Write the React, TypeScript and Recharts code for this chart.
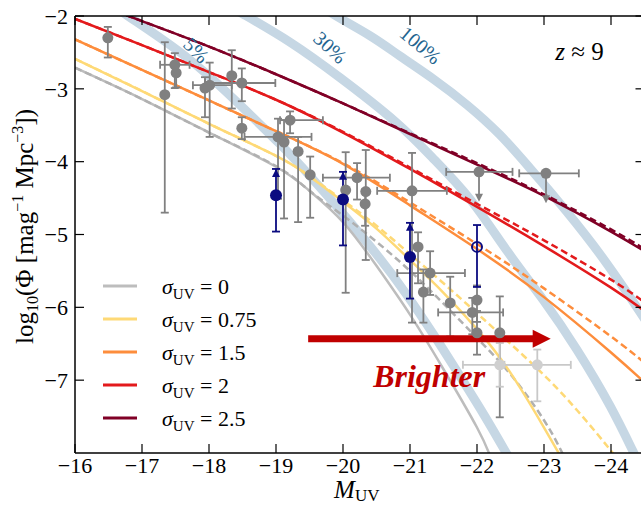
import React from 'react';
import {
  ComposedChart, Line, Scatter, XAxis, YAxis, ErrorBar,
  ReferenceLine, ReferenceDot, Legend,
} from 'recharts';

// ---------- ticks ----------
const xTicks = [-16, -17, -18, -19, -20, -21, -22, -23, -24];
const yTicks = [-2, -3, -4, -5, -6, -7];

// ---------- model curves [M_UV, log10 Phi] ----------
const sigmaLabels = ['0', '0.75', '1.5', '2', '2.5'];
const sigmaColors = ['#bdbdbd', '#fed976', '#fd8d3c', '#e31a1c', '#800026'];

const sigma0Solid: number[][] = [[-16, -2.71], [-17, -3.14], [-18, -3.6], [-19, -4.07], [-19.5, -4.4], [-20, -4.83], [-20.5, -5.43], [-21, -6.1], [-21.5, -6.85], [-22, -7.65], [-22.2, -8.05]];
const sigma0Dashed: number[][] = [[-16, -2.71], [-17, -3.14], [-18, -3.6], [-19, -4.06], [-19.5, -4.4], [-20, -4.74], [-20.5, -5.1], [-21, -5.5], [-21.5, -5.95], [-22, -6.42], [-22.5, -6.92], [-23, -7.55], [-23.3, -8.05]];
const sigma075Solid: number[][] = [[-16, -2.59], [-17, -3.03], [-18, -3.48], [-19, -3.92], [-19.5, -4.2], [-20, -4.55], [-20.5, -4.92], [-21, -5.35], [-21.5, -5.8], [-22, -6.3], [-22.5, -6.9], [-23, -7.65], [-23.25, -8.05]];
const sigma075Dashed: number[][] = [[-16, -2.59], [-17, -3.03], [-18, -3.48], [-19, -3.92], [-19.5, -4.2], [-20, -4.53], [-20.5, -4.88], [-21, -5.27], [-21.5, -5.67], [-22, -6.08], [-22.5, -6.5], [-23, -6.93], [-23.5, -7.42], [-24, -7.97], [-24.05, -8.05]];
const sigma15Solid: number[][] = [[-16, -2.32], [-17, -2.74], [-18, -3.16], [-19, -3.58], [-20, -4.03], [-21, -4.6], [-22, -5.2], [-23, -5.86], [-24, -6.62], [-24.5, -7.03]];
const sigma15Dashed: number[][] = [[-16, -2.32], [-17, -2.74], [-18, -3.16], [-19, -3.58], [-20, -4.02], [-21, -4.56], [-22, -5.13], [-23, -5.74], [-24, -6.4], [-24.5, -6.76]];
const sigma2Solid: number[][] = [[-16, -2.04], [-17, -2.4], [-18, -2.77], [-19, -3.15], [-20, -3.6], [-21, -4.1], [-22, -4.62], [-23, -5.16], [-24, -5.73], [-24.5, -6.05]];
const sigma2Dashed: number[][] = [[-16, -2.04], [-17, -2.4], [-18, -2.77], [-19, -3.15], [-20, -3.59], [-21, -4.08], [-22, -4.58], [-23, -5.08], [-24, -5.62], [-24.5, -5.93]];
const sigma25Solid: number[][] = [[-16, -1.72], [-17, -2.07], [-18, -2.42], [-19, -2.8], [-20, -3.2], [-21, -3.62], [-22, -4.04], [-23, -4.47], [-24, -4.96], [-24.5, -5.23]];
const sigma25Dashed: number[][] = [[-16, -1.72], [-17, -2.07], [-18, -2.42], [-19, -2.8], [-20, -3.2], [-21, -3.61], [-22, -4.02], [-23, -4.45], [-24, -4.93], [-24.5, -5.2]];

// ---------- constant-efficiency bands ----------
const band5: number[][] = [[-16.5, -1.8], [-16.79, -2.0], [-17.67, -2.57], [-18.46, -3.22], [-19.06, -3.76], [-19.51, -4.2], [-20.06, -4.78], [-20.55, -5.33], [-20.93, -5.8], [-21.37, -6.4], [-21.75, -6.95], [-22.12, -7.5], [-22.5, -8.1]];
const band30: number[][] = [[-18.2, -1.81], [-18.54, -1.99], [-19.21, -2.36], [-19.96, -2.85], [-20.78, -3.45], [-21.34, -3.95], [-21.9, -4.52], [-22.46, -5.24], [-22.99, -5.9], [-23.49, -6.58], [-23.99, -7.36], [-24.33, -7.98], [-24.45, -8.2]];
const band100: number[][] = [[-19.5, -1.75], [-19.88, -1.99], [-20.4, -2.27], [-20.85, -2.55], [-21.37, -2.88], [-21.85, -3.22], [-22.34, -3.63], [-22.79, -4.09], [-23.19, -4.52], [-23.73, -5.14], [-24.24, -5.8], [-24.6, -6.3]];
const bandLabels = ['5%', '30%', '100%'];
const bandLabelAt = [[-17.81, -2.47], [-19.81, -2.43], [-21.16, -2.4]];
const bandLabelAngle = [45, 43, 40];

// ---------- observations ----------
const grayPoints = [
  { x: -16.49, y: -2.30, ex: [0, 0], ey: [0.27, 0.15] },
  { x: -17.34, y: -3.08, ex: [0, 0], ey: [1.62, 0.72] },
  { x: -17.49, y: -2.67, ex: [0.22, 0.22], ey: [0.32, 0.16] },
  { x: -17.51, y: -2.78, ex: [0, 0], ey: [0.2, 0.12] },
  { x: -17.94, y: -2.99, ex: [0, 0], ey: [0.4, 0.15] },
  { x: -18.01, y: -2.95, ex: [0.33, 0.25], ey: [0.71, 0.31] },
  { x: -18.34, y: -2.82, ex: [0, 0], ey: [0.45, 0.35] },
  { x: -18.49, y: -2.92, ex: [0.5, 0.55], ey: [0.25, 0.2] },
  { x: -18.49, y: -3.54, ex: [0, 0], ey: [0.15, 0.15] },
  { x: -19.03, y: -3.66, ex: [0.5, 0.5], ey: [0.85, 0.25] },
  { x: -19.12, y: -3.73, ex: [0, 0], ey: [1.05, 0.3] },
  { x: -19.21, y: -3.43, ex: [0.49, 0.15], ey: [0.18, 0.12] },
  { x: -19.33, y: -3.86, ex: [0, 0], ey: [0.97, 0.2] },
  { x: -19.51, y: -4.18, ex: [0, 0], ey: [0.59, 0.25] },
  { x: -20.04, y: -4.39, ex: [0, 0], ey: [1.41, 0.52] },
  { x: -20.21, y: -4.22, ex: [0.49, 0.51], ey: [0.3, 0.2] },
  { x: -20.34, y: -4.41, ex: [0, 0], ey: [0.94, 0.57] },
  { x: -20.33, y: -4.58, ex: [0, 0], ey: [0.3, 0.2] },
  { x: -21.03, y: -4.40, ex: [0.52, 0.52], ey: [1.81, 0.52] },
  { x: -21.12, y: -5.17, ex: [0, 0], ey: [0.5, 0.2] },
  { x: -21.30, y: -5.53, ex: [0.52, 0.49], ey: [0.3, 0.3] },
  { x: -21.20, y: -5.79, ex: [0, 0], ey: [0.42, 0.31] },
  { x: -21.60, y: -5.94, ex: [0, 0], ey: [0.46, 0.36] },
  { x: -22.00, y: -5.90, ex: [0, 0], ey: [0.3, 0.2] },
  { x: -21.93, y: -6.07, ex: [0.46, 0.51], ey: [0.3, 0.2] },
  { x: -22.00, y: -6.35, ex: [0, 0], ey: [0.3, 0.3] },
  { x: -22.34, y: -6.35, ex: [0, 0], ey: [1.16, 0.5] },
];
const grayUpperLimits = [
  { x: -22.03, y: -4.14, ex: [0.5, 0.49], ey: [0.36, 0] },
  { x: -23.03, y: -4.16, ex: [0.49, 0.4], ey: [0.36, 0] },
];
const grayLimitTips = [{ x: -22.03, y: -4.55 }, { x: -23.03, y: -4.57 }];
const fadedPoints = [
  { x: -22.34, y: -6.79, ex: [0.55, 0.55], ey: [0.3, 0.3] },
  { x: -22.90, y: -6.79, ex: [0.5, 0.49], ey: [0.5, 0.21] },
];
const bluePoints = [
  { x: -19.0, y: -4.46, ey: [0.5, 0.36] },
  { x: -20.0, y: -4.52, ey: [0.63, 0.38] },
  { x: -21.0, y: -5.31, ey: [0.57, 0.47] },
];
const blueLimitTips = [{ x: -19.0, y: -4.10 }, { x: -20.0, y: -4.14 }, { x: -21.0, y: -4.84 }];
const blueOpen = [{ x: -22.0, y: -5.17, ey: [0.55, 0.3] }];

// ---------- "Brighter" arrow ----------
const arrowStart = { x: -19.48, y: -6.43 };
const arrowShaftEnd = { x: -22.9, y: -6.43 };
const arrowTip = { x: -23.1, y: -6.43 };
const brighterAt = { x: -20.45, y: -7.1 };
const redshiftAt = { x: -23.53, y: -2.6 };

const xy = (a: number[][]) => a.map(([x, y]) => ({ x, y }));

const curves = [
  { d: sigma0Solid, c: 0, dash: false }, { d: sigma0Dashed, c: 0, dash: true },
  { d: sigma075Solid, c: 1, dash: false }, { d: sigma075Dashed, c: 1, dash: true },
  { d: sigma15Solid, c: 2, dash: false }, { d: sigma15Dashed, c: 2, dash: true },
  { d: sigma2Solid, c: 3, dash: false }, { d: sigma2Dashed, c: 3, dash: true },
  { d: sigma25Solid, c: 4, dash: false }, { d: sigma25Dashed, c: 4, dash: true },
];
const bands = [band5, band30, band100];

const FONT = '"Liberation Serif", "Times New Roman", serif';
const minus = (v: number) => (v < 0 ? `\u2212${Math.abs(v)}` : `${v}`);
const GRAY = '#808080';
const NAVY = '#0b0b80';

const circle = (r: number, fill: string, stroke = 'none', sw = 0) => (p: any) =>
  <circle cx={p.cx} cy={p.cy} r={r} fill={fill} stroke={stroke} strokeWidth={sw} />;
const triUp = (fill: string) => (p: any) =>
  <polygon points={`${p.cx},${p.cy} ${p.cx - 4},${p.cy + 8} ${p.cx + 4},${p.cy + 8}`} fill={fill} />;
const triDown = (fill: string) => (p: any) =>
  <polygon points={`${p.cx},${p.cy} ${p.cx - 4},${p.cy - 8} ${p.cx + 4},${p.cy - 8}`} fill={fill} />;

const LegendBox = () => (
  <svg width={230} height={165} style={{ display: 'block' }}>
    {sigmaLabels.map((s, i) => {
      const y = 16 + i * 33;
      return (
        <g key={s}>
          <line x1={8} x2={42} y1={y} y2={y} stroke={sigmaColors[i]} strokeWidth={3} />
          <text x={67} y={y + 8} fontFamily={FONT} fontSize={22} fill="#000">
            <tspan fontStyle="italic">σ</tspan>
            <tspan fontSize={15} dy={5}>UV</tspan>
            <tspan dy={-5}>{` = ${s}`}</tspan>
          </text>
        </g>
      );
    })}
  </svg>
);

export default function App() {
  return (
    <div style={{ position: 'absolute', left: 0, top: 0, width: 641, height: 506, overflow: 'hidden', background: '#fff' }}>
      <ComposedChart width={652} height={506} margin={{ top: 0, right: 0, bottom: 0, left: 0 }} style={{ fontFamily: FONT }}>
        <XAxis xAxisId="b" type="number" dataKey="x" domain={[-24.5, -16]} reversed allowDataOverflow
          ticks={xTicks} tickFormatter={minus} height={53} tickSize={-9} tickMargin={13}
          axisLine={{ stroke: '#000', strokeWidth: 1.5 }} tickLine={{ stroke: '#000', strokeWidth: 1.2 }}
          tick={{ fill: '#000', fontSize: 22, fontFamily: FONT }}
          label={(p: any) => {
            const vb = p.viewBox;
            return (
              <text x={vb.x + vb.width / 2 - 3} y={vb.y + 45} textAnchor="middle" fontFamily={FONT} fontSize={25} fill="#000">
                <tspan fontStyle="italic">M</tspan>
                <tspan fontSize={17} dy={3}>UV</tspan>
              </text>
            );
          }} />
        <XAxis xAxisId="t" orientation="top" type="number" dataKey="x" domain={[-24.5, -16]} reversed allowDataOverflow
          ticks={xTicks} tickFormatter={() => ''} height={16} tickSize={-9}
          axisLine={{ stroke: '#000', strokeWidth: 1.5 }} tickLine={{ stroke: '#000', strokeWidth: 1.2 }} />
        <YAxis yAxisId="l" type="number" dataKey="y" domain={[-8, -2]} allowDataOverflow
          ticks={yTicks} tickFormatter={minus} width={75} tickSize={-9} tickMargin={16}
          axisLine={{ stroke: '#000', strokeWidth: 1.5 }} tickLine={{ stroke: '#000', strokeWidth: 1.2 }}
          tick={{ fill: '#000', fontSize: 22, fontFamily: FONT }}
          label={(p: any) => {
            const vb = p.viewBox;
            const cx = 33;
            const cy = vb.y + vb.height / 2 - 8;
            return (
              <text x={cx} y={cy} transform={`rotate(-90 ${cx} ${cy})`} textAnchor="middle" fontFamily={FONT} fontSize={25} fill="#000">
                log<tspan fontSize={16} dy={5}>10</tspan>
                <tspan dy={-5}>(Φ [mag</tspan>
                <tspan fontSize={16} dy={-10}>−1</tspan>
                <tspan dy={10}> Mpc</tspan>
                <tspan fontSize={16} dy={-10}>−3</tspan>
                <tspan dy={10}>])</tspan>
              </text>
            );
          }} />
        <YAxis yAxisId="r" orientation="right" type="number" dataKey="y" domain={[-8, -2]} allowDataOverflow
          ticks={yTicks} tickFormatter={() => ''} width={7.5} tickSize={-9}
          axisLine={{ stroke: '#000', strokeWidth: 1.5 }} tickLine={{ stroke: '#000', strokeWidth: 1.2 }} />

        {bands.map((b, i) => (
          <Line key={`band${i}`} xAxisId="b" yAxisId="l" data={xy(b)} dataKey="y" type="natural"
            stroke="#c6d7e4" strokeWidth={9} dot={false} activeDot={false} isAnimationActive={false} legendType="none" />
        ))}

        {curves.map((c, i) => (
          <Line key={`curve${i}`} xAxisId="b" yAxisId="l" data={xy(c.d)} dataKey="y" type="natural"
            stroke={c.dash && c.c === 0 ? '#b0b0b0' : sigmaColors[c.c]} strokeWidth={2.5}
            strokeDasharray={c.dash ? '7 4' : undefined}
            dot={false} activeDot={false} isAnimationActive={false} legendType="none" />
        ))}

        <Scatter xAxisId="b" yAxisId="l" data={grayPoints} shape={circle(5.5, GRAY)} isAnimationActive={false} legendType="none">
          <ErrorBar dataKey="ey" direction="y" width={4} stroke={GRAY} strokeWidth={1.8} isAnimationActive={false} />
          <ErrorBar dataKey="ex" direction="x" width={4} stroke={GRAY} strokeWidth={1.8} isAnimationActive={false} />
        </Scatter>
        <Scatter xAxisId="b" yAxisId="l" data={grayUpperLimits} shape={circle(5.5, GRAY)} isAnimationActive={false} legendType="none">
          <ErrorBar dataKey="ey" direction="y" width={0} stroke={GRAY} strokeWidth={1.8} isAnimationActive={false} />
          <ErrorBar dataKey="ex" direction="x" width={4} stroke={GRAY} strokeWidth={1.8} isAnimationActive={false} />
        </Scatter>
        <Scatter xAxisId="b" yAxisId="l" data={grayLimitTips} shape={triDown(GRAY)} isAnimationActive={false} legendType="none" />
        <Scatter xAxisId="b" yAxisId="l" data={fadedPoints} shape={circle(5.5, '#cfcfcf')} isAnimationActive={false} legendType="none">
          <ErrorBar dataKey="ey" direction="y" width={4} stroke="#c8c8c8" strokeWidth={1.8} isAnimationActive={false} />
          <ErrorBar dataKey="ex" direction="x" width={4} stroke="#c8c8c8" strokeWidth={1.8} isAnimationActive={false} />
        </Scatter>

        <Scatter xAxisId="b" yAxisId="l" data={bluePoints} shape={circle(6, NAVY)} isAnimationActive={false} legendType="none">
          <ErrorBar dataKey="ey" direction="y" width={4} stroke={NAVY} strokeWidth={1.8} isAnimationActive={false} />
        </Scatter>
        <Scatter xAxisId="b" yAxisId="l" data={blueLimitTips} shape={triUp(NAVY)} isAnimationActive={false} legendType="none" />
        <Scatter xAxisId="b" yAxisId="l" data={blueOpen} shape={circle(5, 'none', NAVY, 2)} isAnimationActive={false} legendType="none">
          <ErrorBar dataKey="ey" direction="y" width={4} stroke={NAVY} strokeWidth={1.8} isAnimationActive={false} />
        </Scatter>

        <ReferenceLine xAxisId="b" yAxisId="l" segment={[arrowStart, arrowShaftEnd]} stroke="#c00000" strokeWidth={7} />
        <ReferenceDot xAxisId="b" yAxisId="l" x={arrowTip.x} y={arrowTip.y} r={0}
          shape={(p: any) => <polygon points={`${p.cx},${p.cy} ${p.cx - 18},${p.cy - 9} ${p.cx - 18},${p.cy + 9}`} fill="#c00000" />} />
        <ReferenceDot xAxisId="b" yAxisId="l" x={brighterAt.x} y={brighterAt.y} r={0}
          shape={(p: any) => (
            <text x={p.cx} y={p.cy} fontFamily={FONT} fontSize={32} fontWeight="bold" fontStyle="italic" fill="#c00000">Brighter</text>
          )} />
        <ReferenceDot xAxisId="b" yAxisId="l" x={redshiftAt.x} y={redshiftAt.y} r={0}
          shape={(p: any) => (
            <text x={p.cx} y={p.cy} textAnchor="middle" fontFamily={FONT} fontSize={25} fill="#000">
              <tspan fontStyle="italic">z</tspan> ≈ 9
            </text>
          )} />
        {bandLabels.map((t, i) => (
          <ReferenceDot key={t} xAxisId="b" yAxisId="l" x={bandLabelAt[i][0]} y={bandLabelAt[i][1]} r={0}
            shape={(p: any) => (
              <text x={p.cx} y={p.cy} transform={`rotate(${bandLabelAngle[i]} ${p.cx} ${p.cy})`} textAnchor="middle"
                dominantBaseline="central" fontFamily={FONT} fontSize={20} fill="#23648f">{t}</text>
            )} />
        ))}

        <Legend layout="vertical" align="center" verticalAlign="middle" content={() => <LegendBox />}
          wrapperStyle={{ position: 'absolute', left: 95, top: 270, width: 230, height: 165 }} />
      </ComposedChart>
    </div>
  );
}
